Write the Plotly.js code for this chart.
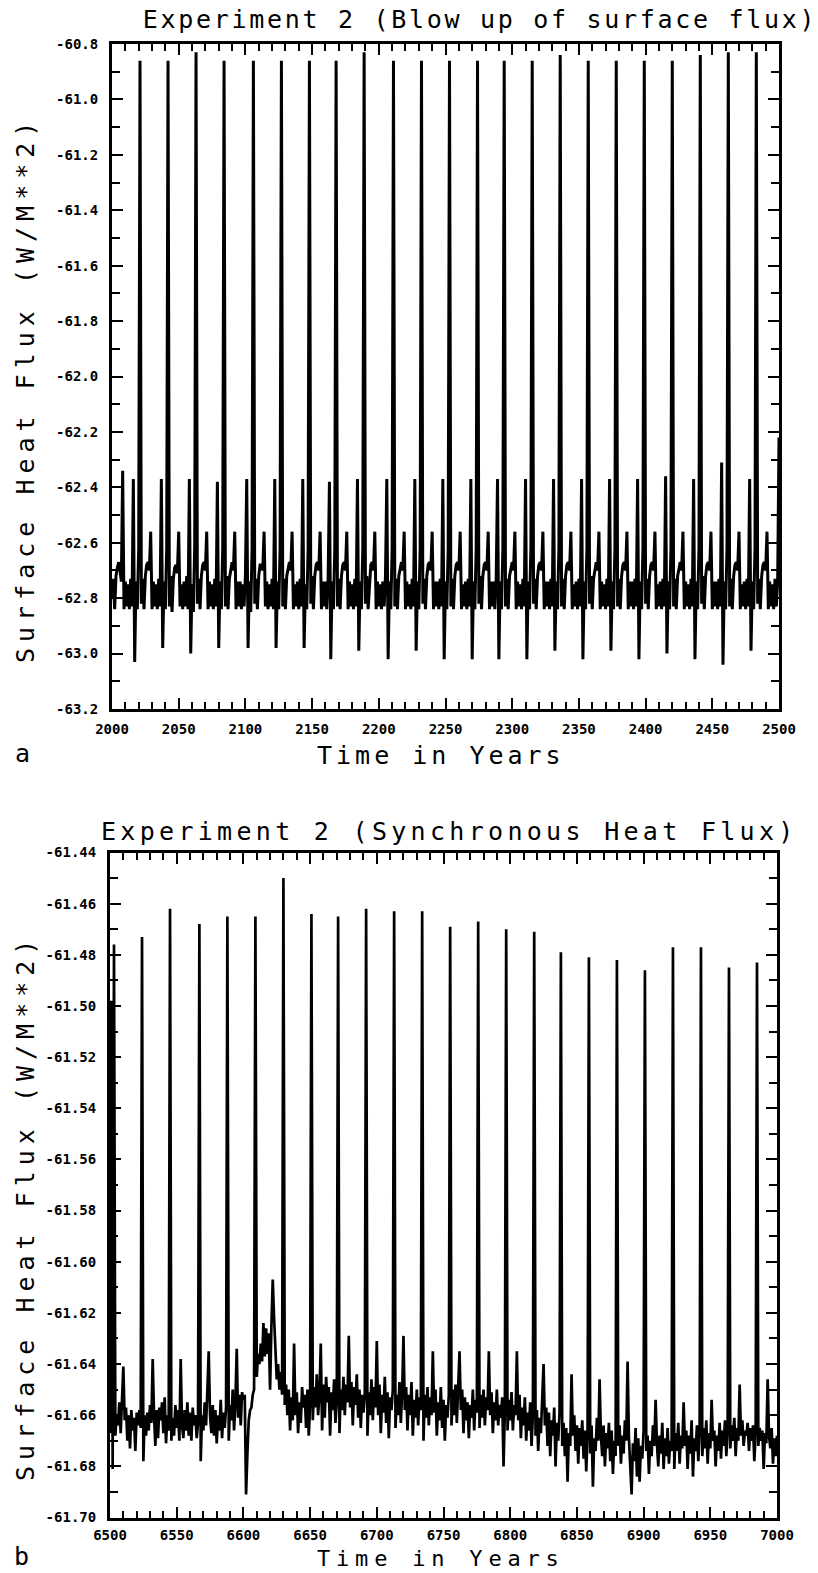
<!DOCTYPE html>
<html>
<head>
<meta charset="utf-8">
<script src="https://cdn.plot.ly/plotly-3.0.1.min.js"></script>
<style>html,body{margin:0;padding:0;background:#fff;}#chart{width:818px;height:1573px;}</style>
</head>
<body>
<div id="chart"></div>
<script>
// ---------- Panel a : Experiment 2 (Blow up of surface flux), annual values 2000..2500 ----------
const startYearA = 2000;
const fluxA = [
-62.80,-62.73,-62.84,-62.72,-62.69,-62.67,-62.70,-62.74,-62.34,-62.84,-62.74,-62.83,-62.75,-62.84,-62.73,-62.83,-62.37,-63.03,-62.74,-62.84,-62.62,-60.86,
-62.82,-62.73,-62.84,-62.72,-62.68,-62.67,-62.70,-62.56,-62.84,-62.74,-62.83,-62.75,-62.84,-62.73,-62.83,-62.37,-62.98,-62.74,-62.84,-62.62,-60.86,
-62.83,-62.72,-62.85,-62.73,-62.69,-62.68,-62.71,-62.56,-62.83,-62.75,-62.84,-62.74,-62.83,-62.72,-62.84,-62.37,-63.00,-62.75,-62.85,-62.61,-60.83,
-62.82,-62.73,-62.84,-62.72,-62.68,-62.67,-62.70,-62.56,-62.84,-62.74,-62.83,-62.75,-62.84,-62.73,-62.83,-62.38,-62.98,-62.74,-62.84,-62.62,-60.86,
-62.83,-62.72,-62.84,-62.73,-62.69,-62.67,-62.70,-62.56,-62.84,-62.74,-62.83,-62.74,-62.84,-62.75,-62.83,-62.72,-62.37,-62.98,-62.74,-62.85,-62.62,-60.86,
-62.82,-62.73,-62.84,-62.72,-62.68,-62.68,-62.70,-62.56,-62.83,-62.74,-62.84,-62.75,-62.83,-62.73,-62.84,-62.37,-62.98,-62.74,-62.84,-62.62,-60.86,
-62.83,-62.73,-62.84,-62.72,-62.69,-62.67,-62.70,-62.56,-62.84,-62.75,-62.83,-62.74,-62.84,-62.73,-62.83,-62.37,-62.98,-62.75,-62.84,-62.62,-60.86,
-62.82,-62.72,-62.84,-62.72,-62.68,-62.67,-62.70,-62.56,-62.84,-62.74,-62.83,-62.74,-62.84,-62.73,-62.38,-63.02,-62.74,-62.84,-62.62,-60.86,
-62.83,-62.73,-62.84,-62.72,-62.68,-62.67,-62.70,-62.56,-62.84,-62.74,-62.83,-62.75,-62.84,-62.73,-62.83,-62.37,-62.99,-62.74,-62.84,-62.62,-60.83,
-62.82,-62.72,-62.84,-62.73,-62.68,-62.67,-62.70,-62.56,-62.84,-62.74,-62.83,-62.75,-62.84,-62.74,-62.83,-62.72,-62.37,-63.02,-62.74,-62.84,-62.62,-60.86,
-62.83,-62.73,-62.84,-62.72,-62.69,-62.67,-62.70,-62.56,-62.84,-62.74,-62.83,-62.75,-62.84,-62.73,-62.83,-62.37,-62.99,-62.74,-62.84,-62.62,-60.86,
-62.82,-62.73,-62.84,-62.72,-62.68,-62.67,-62.70,-62.56,-62.84,-62.74,-62.83,-62.74,-62.84,-62.73,-62.83,-62.37,-63.02,-62.74,-62.84,-62.62,-60.86,
-62.83,-62.73,-62.84,-62.72,-62.68,-62.67,-62.70,-62.56,-62.84,-62.75,-62.83,-62.74,-62.84,-62.73,-62.83,-62.37,-63.02,-62.74,-62.84,-62.62,-60.86,
-62.82,-62.72,-62.84,-62.72,-62.68,-62.67,-62.70,-62.56,-62.84,-62.74,-62.83,-62.74,-62.84,-62.73,-62.37,-63.02,-62.74,-62.84,-62.62,-60.86,
-62.83,-62.73,-62.84,-62.72,-62.69,-62.67,-62.70,-62.56,-62.84,-62.74,-62.83,-62.75,-62.84,-62.73,-62.83,-62.37,-63.02,-62.74,-62.84,-62.62,-60.86,
-62.82,-62.73,-62.84,-62.72,-62.68,-62.67,-62.70,-62.56,-62.84,-62.74,-62.83,-62.74,-62.84,-62.73,-62.83,-62.37,-62.99,-62.74,-62.84,-62.62,-60.84,
-62.83,-62.73,-62.84,-62.72,-62.68,-62.67,-62.70,-62.56,-62.84,-62.75,-62.83,-62.74,-62.84,-62.73,-62.83,-62.37,-63.02,-62.74,-62.84,-62.62,-60.86,
-62.82,-62.72,-62.84,-62.73,-62.69,-62.67,-62.70,-62.56,-62.84,-62.74,-62.83,-62.75,-62.84,-62.73,-62.83,-62.37,-62.99,-62.74,-62.84,-62.62,-60.86,
-62.83,-62.73,-62.84,-62.72,-62.68,-62.67,-62.70,-62.56,-62.84,-62.74,-62.83,-62.74,-62.84,-62.73,-62.83,-62.37,-63.02,-62.74,-62.84,-62.62,-60.86,
-62.82,-62.73,-62.84,-62.72,-62.68,-62.67,-62.70,-62.56,-62.84,-62.75,-62.83,-62.74,-62.84,-62.73,-62.83,-62.36,-63.00,-62.74,-62.84,-62.62,-60.86,
-62.83,-62.73,-62.84,-62.72,-62.69,-62.67,-62.70,-62.56,-62.84,-62.74,-62.83,-62.75,-62.84,-62.73,-62.83,-62.37,-63.02,-62.74,-62.84,-62.62,-60.84,
-62.82,-62.72,-62.84,-62.72,-62.68,-62.67,-62.70,-62.56,-62.84,-62.74,-62.83,-62.74,-62.84,-62.73,-62.83,-62.31,-63.04,-62.74,-62.84,-62.62,-60.83,
-62.83,-62.73,-62.84,-62.72,-62.68,-62.67,-62.70,-62.56,-62.84,-62.75,-62.83,-62.74,-62.84,-62.73,-62.83,-62.37,-62.99,-62.74,-62.84,-62.62,-60.83,
-62.82,-62.73,-62.84,-62.72,-62.68,-62.67,-62.70,-62.56,-62.84,-62.74,-62.83,-62.75,-62.84,-62.73,-62.83,-62.74,-62.22
];

// ---------- Panel b : Experiment 2 (Synchronous Heat Flux), annual values 6500..7000 ----------
const startYearB = 6500;
const fluxB = [
-61.667,-61.498,-61.681,-61.476,-61.668,-61.660,-61.664,-61.655,-61.667,-61.652,
-61.641,-61.662,-61.657,-61.670,-61.660,-61.673,-61.658,-61.666,-61.661,-61.674,
-61.659,-61.664,-61.658,-61.665,-61.473,-61.678,-61.660,-61.668,-61.659,-61.666,
-61.656,-61.663,-61.638,-61.660,-61.672,-61.658,-61.669,-61.657,-61.662,-61.655,
-61.667,-61.653,-61.671,-61.660,-61.666,-61.462,-61.670,-61.661,-61.668,-61.656,
-61.665,-61.658,-61.670,-61.638,-61.664,-61.669,-61.658,-61.666,-61.655,-61.668,
-61.659,-61.670,-61.657,-61.664,-61.660,-61.669,-61.663,-61.468,-61.678,-61.660,
-61.666,-61.655,-61.664,-61.650,-61.635,-61.660,-61.667,-61.656,-61.668,-61.658,
-61.671,-61.660,-61.666,-61.654,-61.669,-61.659,-61.665,-61.657,-61.465,-61.670,
-61.656,-61.662,-61.650,-61.666,-61.655,-61.634,-61.661,-61.652,-61.664,-61.651,
-61.654,-61.652,-61.691,-61.675,-61.662,-61.658,-61.657,-61.652,-61.650,-61.465,
-61.645,-61.636,-61.640,-61.632,-61.639,-61.624,-61.637,-61.626,-61.636,-61.628,
-61.650,-61.625,-61.607,-61.622,-61.636,-61.646,-61.640,-61.650,-61.643,-61.652,
-61.450,-61.656,-61.648,-61.660,-61.650,-61.666,-61.653,-61.662,-61.632,-61.660,
-61.651,-61.667,-61.655,-61.663,-61.649,-61.657,-61.652,-61.665,-61.650,-61.668,
-61.656,-61.464,-61.662,-61.649,-61.657,-61.644,-61.660,-61.652,-61.632,-61.666,
-61.648,-61.661,-61.645,-61.655,-61.649,-61.668,-61.651,-61.658,-61.646,-61.663,
-61.655,-61.465,-61.667,-61.650,-61.658,-61.645,-61.660,-61.648,-61.655,-61.629,
-61.657,-61.647,-61.664,-61.649,-61.656,-61.644,-61.661,-61.650,-61.665,-61.652,
-61.659,-61.653,-61.462,-61.668,-61.651,-61.660,-61.646,-61.662,-61.649,-61.657,
-61.631,-61.660,-61.648,-61.667,-61.652,-61.659,-61.645,-61.663,-61.651,-61.669,
-61.653,-61.658,-61.650,-61.463,-61.665,-61.652,-61.660,-61.647,-61.663,-61.651,
-61.629,-61.658,-61.649,-61.666,-61.652,-61.660,-61.647,-61.668,-61.654,-61.661,
-61.650,-61.664,-61.653,-61.658,-61.463,-61.670,-61.652,-61.661,-61.649,-61.664,
-61.653,-61.660,-61.635,-61.659,-61.650,-61.668,-61.655,-61.662,-61.649,-61.665,
-61.654,-61.670,-61.656,-61.661,-61.652,-61.469,-61.664,-61.650,-61.660,-61.648,
-61.663,-61.651,-61.635,-61.658,-61.650,-61.667,-61.653,-61.662,-61.655,-61.669,
-61.656,-61.661,-61.650,-61.666,-61.654,-61.659,-61.467,-61.665,-61.652,-61.661,
-61.650,-61.664,-61.653,-61.658,-61.635,-61.660,-61.651,-61.667,-61.655,-61.662,
-61.650,-61.664,-61.656,-61.661,-61.653,-61.680,-61.658,-61.470,-61.666,-61.654,
-61.662,-61.651,-61.666,-61.656,-61.660,-61.635,-61.662,-61.652,-61.669,-61.657,
-61.664,-61.653,-61.670,-61.659,-61.666,-61.655,-61.672,-61.660,-61.471,-61.668,
-61.658,-61.674,-61.661,-61.667,-61.656,-61.640,-61.664,-61.657,-61.672,-61.659,
-61.676,-61.662,-61.668,-61.657,-61.680,-61.663,-61.670,-61.659,-61.479,-61.672,
-61.663,-61.676,-61.665,-61.686,-61.667,-61.672,-61.644,-61.668,-61.660,-61.674,
-61.664,-61.679,-61.665,-61.672,-61.662,-61.677,-61.666,-61.682,-61.668,-61.481,
-61.675,-61.664,-61.688,-61.669,-61.674,-61.661,-61.670,-61.646,-61.668,-61.676,
-61.664,-61.680,-61.667,-61.673,-61.663,-61.678,-61.666,-61.683,-61.670,-61.676,
-61.482,-61.672,-61.664,-61.679,-61.668,-61.675,-61.662,-61.670,-61.639,-61.669,
-61.680,-61.691,-61.671,-61.678,-61.665,-61.684,-61.669,-61.686,-61.672,-61.677,
-61.666,-61.486,-61.674,-61.668,-61.683,-61.670,-61.676,-61.664,-61.672,-61.654,
-61.671,-61.680,-61.668,-61.675,-61.663,-61.681,-61.669,-61.676,-61.665,-61.679,
-61.670,-61.674,-61.477,-61.681,-61.667,-61.674,-61.663,-61.679,-61.668,-61.673,
-61.655,-61.672,-61.666,-61.681,-61.668,-61.675,-61.662,-61.684,-61.669,-61.674,
-61.664,-61.678,-61.667,-61.477,-61.676,-61.665,-61.673,-61.662,-61.679,-61.667,
-61.673,-61.654,-61.670,-61.666,-61.680,-61.668,-61.674,-61.663,-61.677,-61.666,
-61.672,-61.662,-61.676,-61.667,-61.485,-61.673,-61.664,-61.670,-61.661,-61.676,
-61.665,-61.670,-61.648,-61.668,-61.662,-61.672,-61.666,-61.668,-61.663,-61.674,
-61.665,-61.670,-61.664,-61.678,-61.667,-61.483,-61.672,-61.665,-61.670,-61.666,
-61.681,-61.667,-61.671,-61.646,-61.668,-61.673,-61.665,-61.679,-61.669,-61.676,
-61.668
];

// ---------- tick labels ----------
const yTickValsA = [-63.2,-63.0,-62.8,-62.6,-62.4,-62.2,-62.0,-61.8,-61.6,-61.4,-61.2,-61.0,-60.8];
const yTickTextA = ['-63.2','-63.0','-62.8','-62.6','-62.4','-62.2','-62.0','-61.8','-61.6','-61.4','-61.2','-61.0','-60.8'];
const yTickValsB = [-61.70,-61.68,-61.66,-61.64,-61.62,-61.60,-61.58,-61.56,-61.54,-61.52,-61.50,-61.48,-61.46,-61.44];
const yTickTextB = ['-61.70','-61.68','-61.66','-61.64','-61.62','-61.60','-61.58','-61.56','-61.54','-61.52','-61.50','-61.48','-61.46','-61.44'];

const titleA = 'Experiment 2 (Blow up of surface flux)';
const titleB = 'Experiment 2 (Synchronous Heat Flux)';
const xTitle = 'Time in Years';
const yTitle = 'Surface Heat Flux (W/M**2)';

// ---------- build ----------
const yearsA = fluxA.map((v, i) => startYearA + i);
const yearsB = fluxB.map((v, i) => startYearB + i);

const W = 818, H = 1573;
const px = x => x / W;
const py = y => 1 - y / H;

const tickFont = {family: 'DejaVu Sans Mono', size: 14, weight: 'bold', color: '#000'};
const textFont = {family: 'DejaVu Sans Mono', size: 25, color: '#000'};
const smallFont = {family: 'DejaVu Sans Mono', size: 22, color: '#000'};
const sp = (s, ls) => '<span style="letter-spacing:' + ls + 'px">' + s + '</span>';

function xAxis(domain, r0, r1, anchor, standoff) {
  return {
    domain: domain, range: [r0, r1], anchor: anchor,
    tickmode: 'linear', tick0: r0, dtick: 50,
    ticks: 'inside', ticklen: 11, tickwidth: 2, tickcolor: '#000',
    minor: {tick0: r0, dtick: 10, ticks: 'inside', ticklen: 7, tickwidth: 2, tickcolor: '#000', showgrid: false},
    showline: true, linewidth: 3, linecolor: '#000', mirror: 'ticks',
    showgrid: false, zeroline: false, tickfont: tickFont, ticklabelstandoff: standoff,
    fixedrange: true
  };
}
function yAxis(domain, r0, r1, vals, text, minorStep, anchor) {
  return {
    domain: domain, range: [r0, r1], anchor: anchor,
    tickmode: 'array', tickvals: vals, ticktext: text,
    ticks: 'inside', ticklen: 11, tickwidth: 2, tickcolor: '#000',
    minor: {tickmode: 'linear', tick0: r0, dtick: minorStep, ticks: 'inside', ticklen: 8, tickwidth: 2, tickcolor: '#000', showgrid: false},
    showline: true, linewidth: 3, linecolor: '#000', mirror: 'ticks',
    showgrid: false, zeroline: false, tickfont: tickFont, ticklabelstandoff: 8,
    fixedrange: true
  };
}

const traces = [
  {x: yearsA, y: fluxA, type: 'scatter', mode: 'lines', xaxis: 'x', yaxis: 'y',
   line: {color: '#000', width: 3}, hoverinfo: 'skip', showlegend: false},
  {x: yearsB, y: fluxB, type: 'scatter', mode: 'lines', xaxis: 'x2', yaxis: 'y2',
   line: {color: '#000', width: 2.7}, hoverinfo: 'skip', showlegend: false}
];

const layout = {
  width: W, height: H,
  margin: {l: 0, r: 0, t: 0, b: 0, pad: 0},
  paper_bgcolor: '#fff', plot_bgcolor: '#fff',
  showlegend: false,
  title: {text: sp(titleA, 2.7), x: px(480), xanchor: 'center', y: py(19), yanchor: 'middle', font: textFont},
  xaxis: xAxis([px(112), px(779)], 2000, 2500, 'y', 5),
  yaxis: yAxis([py(709), py(44)], -63.2, -60.8, yTickValsA, yTickTextA, 0.1, 'x'),
  xaxis2: xAxis([px(110), px(777)], 6500, 7000, 'y2', 3),
  yaxis2: yAxis([py(1517.5), py(852.5)], -61.70, -61.44, yTickValsB, yTickTextB, 0.01, 'x2'),
  annotations: [
    {text: sp(titleB, 4.3), x: px(449), y: py(831), xref: 'paper', yref: 'paper', xanchor: 'center', yanchor: 'middle', showarrow: false, font: textFont},
    {text: sp(xTitle, 4), x: px(441), y: py(755), xref: 'paper', yref: 'paper', xanchor: 'center', yanchor: 'middle', showarrow: false, font: textFont},
    {text: sp(xTitle, 5.8), x: px(441), y: py(1558), xref: 'paper', yref: 'paper', xanchor: 'center', yanchor: 'middle', showarrow: false, font: smallFont},
    {text: sp(yTitle, 6), x: px(25), y: py(390), xref: 'paper', yref: 'paper', xanchor: 'center', yanchor: 'middle', textangle: -90, showarrow: false, font: textFont},
    {text: sp(yTitle, 6), x: px(25), y: py(1208), xref: 'paper', yref: 'paper', xanchor: 'center', yanchor: 'middle', textangle: -90, showarrow: false, font: textFont},
    {text: 'a', x: px(22), y: py(753), xref: 'paper', yref: 'paper', xanchor: 'center', yanchor: 'middle', showarrow: false, font: textFont},
    {text: 'b', x: px(21), y: py(1556), xref: 'paper', yref: 'paper', xanchor: 'center', yanchor: 'middle', showarrow: false, font: textFont}
  ]
};

Plotly.newPlot('chart', traces, layout, {displayModeBar: false, staticPlot: true});
</script>
</body>
</html>
